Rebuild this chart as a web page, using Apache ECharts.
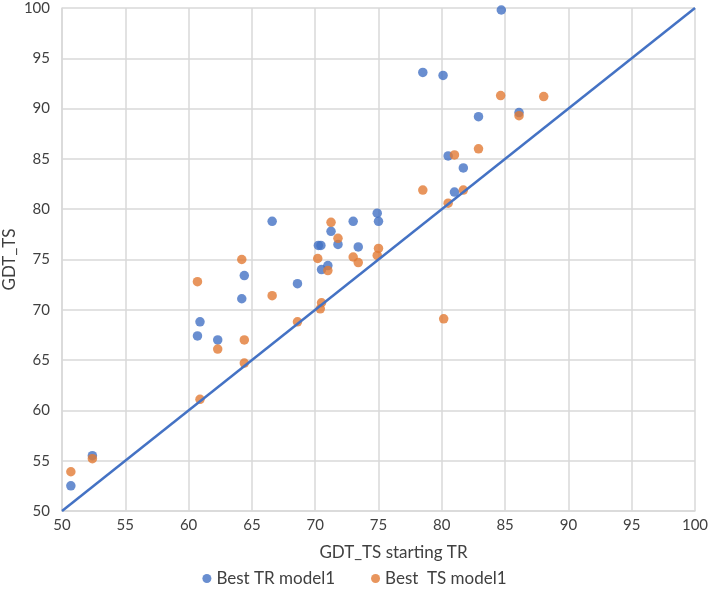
<!DOCTYPE html>
<html><head><meta charset="utf-8">
<script src="https://cdn.jsdelivr.net/npm/echarts@6/dist/echarts.min.js"></script>
<style>html,body{margin:0;padding:0;background:#fff}#c{width:709px;height:594px}</style>
</head><body><div id="c"></div>
<script>
const trX = [50.7,52.4,60.7,60.9,62.3,64.2,64.4,66.6,68.6,70.25,70.45,70.5,71.0,71.25,71.8,73.0,73.4,74.9,75.0,78.5,80.1,80.5,81.0,81.7,82.9,84.7,86.1];
const trY = [52.5,55.5,67.4,68.8,67.0,71.1,73.4,78.8,72.6,76.4,76.4,74.0,74.4,77.8,76.5,78.8,76.25,79.6,78.8,93.6,93.3,85.3,81.7,84.1,89.2,99.8,89.6];
const tsX = [50.7,52.4,60.7,60.9,62.3,64.2,64.4,64.4,66.6,68.6,70.2,70.4,70.5,71.0,71.25,71.8,73.0,73.4,74.9,75.0,78.5,80.15,80.5,81.0,81.7,82.9,84.65,86.1,88.05];
const tsY = [53.9,55.2,72.8,61.1,66.1,75.0,67.0,64.7,71.4,68.8,75.1,70.1,70.7,73.9,78.7,77.1,75.25,74.7,75.4,76.1,81.9,69.1,80.6,85.4,81.9,86.0,91.3,89.3,91.2];
const diagX = [50,100];
const diagY = [50,100];
const seriesNames = ['Best TR model1','Best  TS model1'];
const xTitle = 'GDT_TS starting TR';
const yTitle = 'GDT_TS';

const zip = (a,b) => a.map((v,i)=>[v,b[i]]);
const font = 'Lato, "Open Sans", sans-serif';
const chart = echarts.init(document.getElementById('c'));
chart.setOption({
  animation:false,
  textStyle:{fontFamily:font},
  grid:{left:62,right:14,top:8,bottom:83,containLabel:false,outerBoundsMode:'none'},
  xAxis:{type:'value',min:50,max:100,interval:5,
    name:xTitle,nameLocation:'middle',nameGap:33,
    nameTextStyle:{fontSize:17,color:'#404040',fontFamily:font,padding:[0,0,0,30]},
    axisLine:{show:true,lineStyle:{color:'#d9d9d9',width:1.5}},
    axisTick:{show:false},
    axisLabel:{fontSize:15,color:'#404040',margin:7},
    splitLine:{show:true,lineStyle:{color:'#d9d9d9',width:1.5}}},
  yAxis:{type:'value',min:50,max:100,interval:5,
    name:yTitle,nameLocation:'middle',nameGap:44,nameMoveOverlap:false,
    nameTextStyle:{fontSize:17,color:'#404040',fontFamily:font},
    axisLine:{show:true,lineStyle:{color:'#d9d9d9',width:1.5}},
    axisTick:{show:false},
    axisLabel:{fontSize:15,color:'#404040',margin:12},
    splitLine:{show:true,lineStyle:{color:'#d9d9d9',width:1.5}}},
  legend:{data:seriesNames,bottom:2,left:'center',itemWidth:9,itemHeight:9,itemGap:36,
    icon:'circle',textStyle:{fontSize:17,color:'#404040',fontFamily:font}},
  series:[
    {name:seriesNames[0],type:'scatter',symbolSize:9.5,data:zip(trX,trY),
      itemStyle:{color:'#4472C4'},z:3},
    {name:seriesNames[1],type:'scatter',symbolSize:9.5,data:zip(tsX,tsY),
      itemStyle:{color:'#E27B34'},z:4},
    {name:'diag',type:'line',data:zip(diagX,diagY),symbol:'none',
      lineStyle:{color:'#4472C4',width:2.5},z:5}
  ]
});
</script></body></html>
